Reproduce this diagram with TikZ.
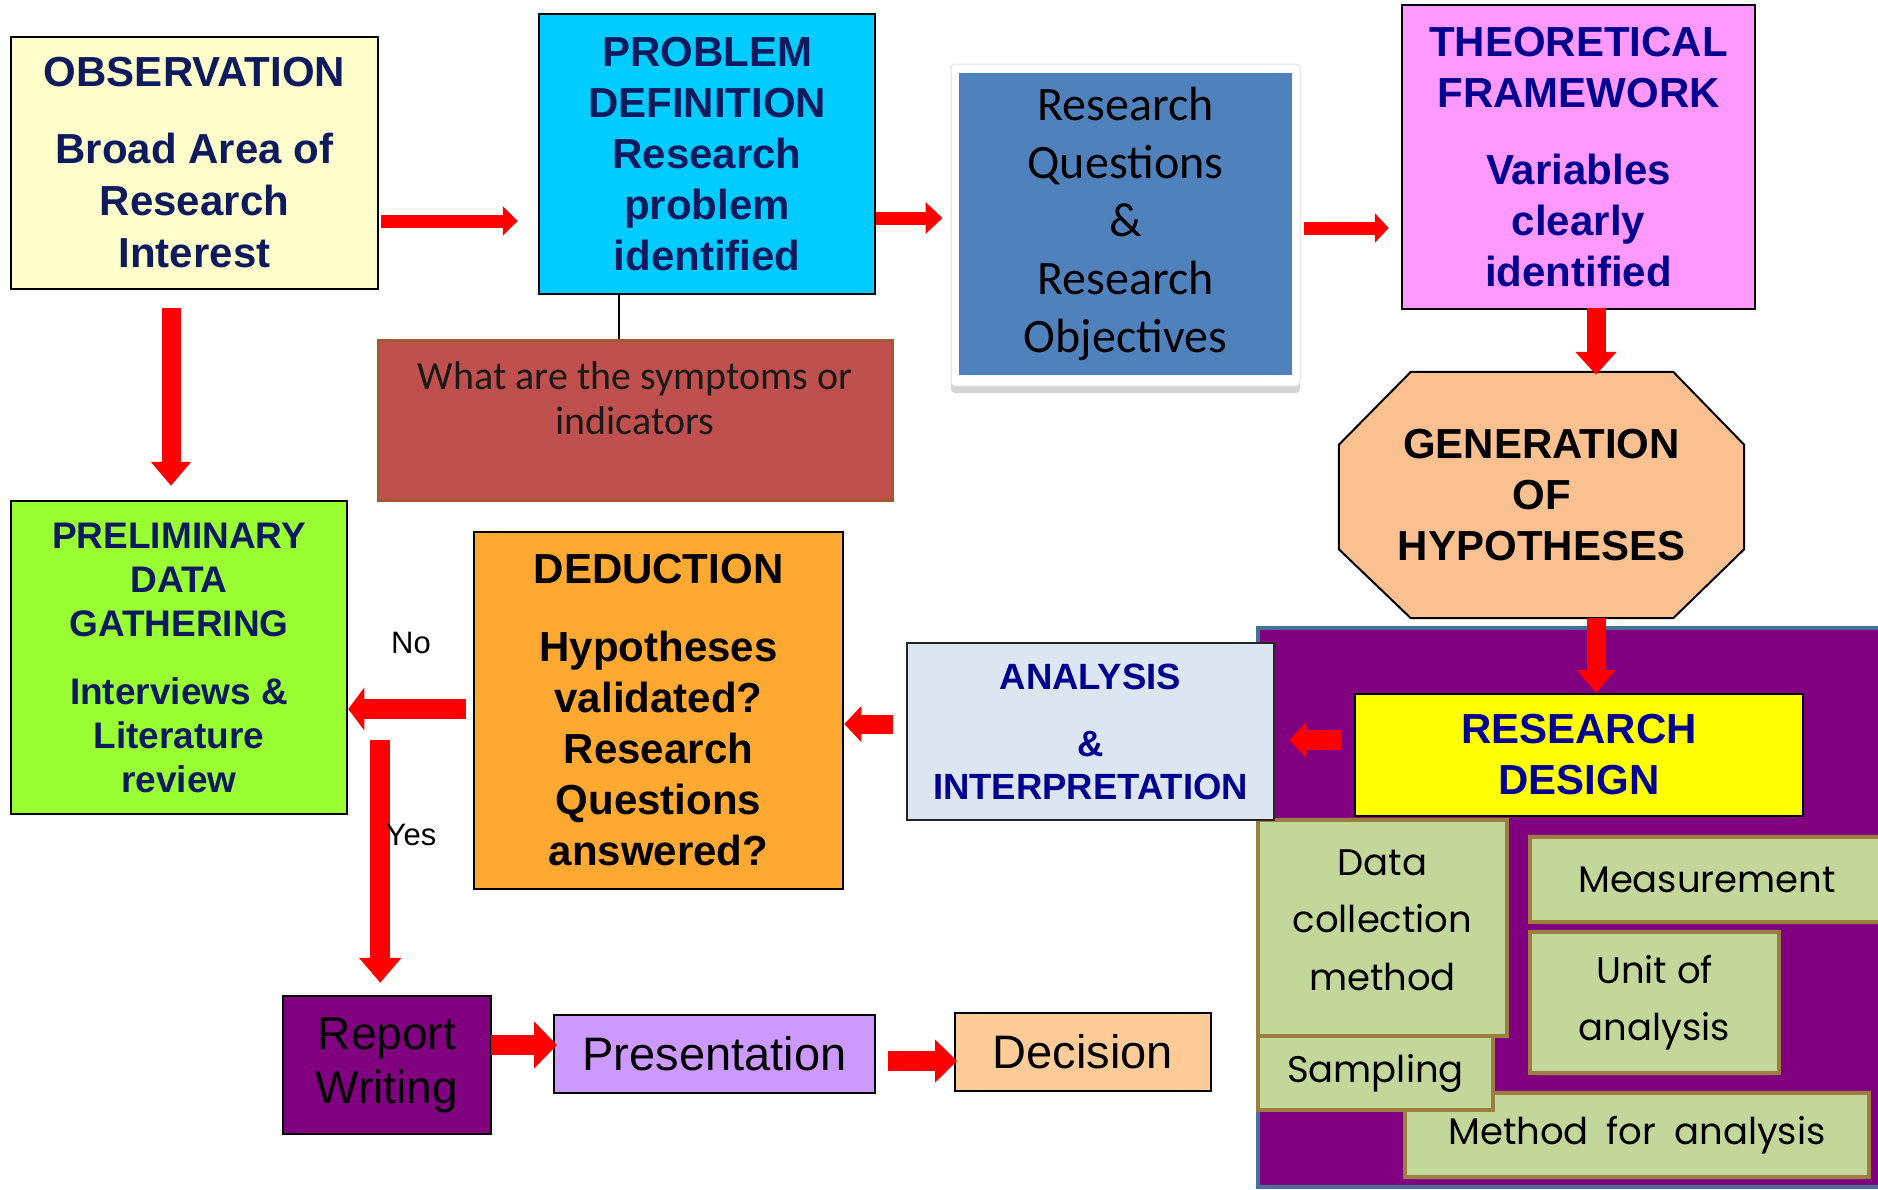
\documentclass[tikz,border=0pt]{standalone}
\usepackage{fontspec}
\setmainfont{Liberation Sans}
\newfontfamily\calib{Carlito}
\newfontfamily\gothic{Poppins}
\usetikzlibrary{arrows.meta,shadows,calc,backgrounds}

\definecolor{obsfill}{HTML}{FFFFCC}
\definecolor{probfill}{HTML}{00CCFF}
\definecolor{tffill}{HTML}{FF99FF}
\definecolor{gohfill}{HTML}{FAC090}
\definecolor{prelimfill}{HTML}{99FF33}
\definecolor{dedfill}{HTML}{FFA832}
\definecolor{anafill}{HTML}{DCE6F2}
\definecolor{rdfill}{HTML}{FFFF00}
\definecolor{purp}{HTML}{800080}
\definecolor{presfill}{HTML}{CC99FF}
\definecolor{decfill}{HTML}{FFCC99}
\definecolor{rqblue}{HTML}{4F81BD}
\definecolor{symfill}{HTML}{C0504D}
\definecolor{symedge}{HTML}{A35A32}
\definecolor{areaedge}{HTML}{4A6F98}
\definecolor{subfill}{HTML}{C4D79B}
\definecolor{subedge}{HTML}{9C7F3F}
\definecolor{darknavy}{HTML}{0D1B5E}
\definecolor{navy}{HTML}{000090}
\definecolor{arrowred}{HTML}{FF0000}

\tikzset{
  box/.style={draw=black, line width=2.5pt, inner sep=0pt, align=center},
  bigbold/.style={font=\fontsize{42}{51}\selectfont\bfseries},
  arr/.style n args={3}{draw=arrowred, line width=#1,
    -{Triangle[width=#2,length=#3]}},
  gothictext/.style={align=center, inner sep=0pt,
    font=\gothic\fontsize{37}{57.5}\selectfont},
  subbox/.style={draw=subedge, fill=subfill, line width=3.5pt, inner sep=0pt,
    gothictext},
  answer/.style={font=\fontsize{31}{36}\selectfont, inner sep=0pt},
}

\begin{document}
\begin{tikzpicture}[x=1pt,y=-1pt]
\useasboundingbox (0,0) rectangle (1878,1189);
\clip (0,0) rectangle (1878,1189);

% research design area
\node[draw=areaedge, fill=purp, line width=4pt, minimum width=632pt,
  minimum height=559pt, inner sep=0pt] (area) at (1574,907.5) {};

% top row
\node[box, fill=obsfill, minimum width=367pt, minimum height=252pt,
  text=darknavy, font=\fontsize{42}{52}\selectfont\bfseries] (obs) at (194.5,163)
  {OBSERVATION\\[25pt]Broad Area of\\Research\\Interest};

\node[box, fill=probfill, minimum width=336pt, minimum height=280pt,
  text=darknavy, bigbold] (prob) at (707,154)
  {PROBLEM\\DEFINITION\\Research\\problem\\identified};

\node[draw=symedge, fill=symfill, line width=3pt, minimum width=514pt,
  minimum height=160pt, inner sep=0pt] (sym) at (635,420) {};
\node[align=center, inner sep=0pt, text=black!90,
  font=\calib\fontsize{40}{45}\selectfont] (symt) at (635,398)
  {What are the symptoms or\\indicators};

\node[draw=black!12, fill=white, line width=1pt, rounded corners=4pt,
  minimum width=349pt, minimum height=322pt,
  drop shadow={shadow xshift=0pt, shadow yshift=-7pt, opacity=0.35}]
  (rqframe) at (1125.5,225) {};
\node[fill=rqblue, minimum width=333pt, minimum height=302pt, inner sep=0pt,
  align=center, font=\calib\fontsize{48}{58}\selectfont] (rq) at (1125.5,224)
  {Research\\Questions\\\&\\Research\\Objectives};

\node[box, fill=tffill, minimum width=353pt, minimum height=304pt,
  text=navy, font=\fontsize{42}{51}\selectfont\bfseries] (tf) at (1578.5,157)
  {THEORETICAL\\FRAMEWORK\\[26pt]Variables\\clearly\\identified};

% octagon: the node holds the text, its outline sits behind it
\node[minimum width=405pt, minimum height=246pt, inner sep=0pt, align=center,
  bigbold] (goh) at (1541.5,495) {GENERATION\\OF\\HYPOTHESES};
\begin{scope}[on background layer]
  \draw[black, line width=2pt, fill=gohfill, line join=miter]
    ([xshift=72pt]goh.north west) -- ([xshift=-71pt]goh.north east)
    -- ([yshift=-73pt]goh.north east) -- ([yshift=69pt]goh.south east)
    -- ([xshift=-71pt]goh.south east) -- ([xshift=72pt]goh.south west)
    -- ([yshift=69pt]goh.south west) -- ([yshift=-73pt]goh.north west)
    -- cycle;
\end{scope}

% middle row
\node[box, fill=prelimfill, minimum width=336pt, minimum height=313pt,
  text=darknavy, font=\fontsize{37}{44}\selectfont\bfseries] (prelim) at (179,657.5)
  {PRELIMINARY\\DATA\\GATHERING\\[24pt]Interviews \&\\Literature\\review};

\node[box, fill=dedfill, minimum width=369pt, minimum height=357pt,
  font=\fontsize{42}{51}\selectfont\bfseries] (ded) at (658.5,710.5)
  {DEDUCTION\\[27pt]Hypotheses\\validated?\\Research\\Questions\\answered?};

% research design components
\node[subbox, minimum width=464pt, minimum height=84pt] (meth) at (1637,1135)
  {Method\hspace{8pt} for\hspace{8pt} analysis};
\node[subbox, minimum width=235pt, minimum height=74pt] (samp) at (1375.5,1073)
  {Sampling};
\node[subbox, minimum width=249pt, minimum height=216pt] (dcm) at (1382.5,928) {};
\node[gothictext] (dcmt) at (1382.5,920) {Data\\collection\\method};
\node[subbox, minimum width=354pt, minimum height=85pt] (meas) at (1707,879.5)
  {Measurement};
\node[subbox, minimum width=249pt, minimum height=141pt] (unit) at (1654.5,1002.5)
  {Unit of\\analysis};

\node[box, fill=rdfill, minimum width=448pt, minimum height=122pt,
  text=navy, bigbold] (rd) at (1579,755) {RESEARCH\\DESIGN};

\node[draw=black!85, line width=2.5pt, fill=anafill, minimum width=367pt,
  minimum height=177pt, inner sep=0pt, align=center, text=navy,
  font=\fontsize{36.5}{43}\selectfont\bfseries] (ana) at (1090.5,731.5)
  {ANALYSIS\\[24pt]\&\\INTERPRETATION};

% bottom row
\node[box, fill=purp, minimum width=208pt, minimum height=138pt,
  font=\fontsize{46}{54}\selectfont] (report) at (387,1065) {Report\\Writing};
\node[box, fill=presfill, minimum width=321pt, minimum height=78pt,
  line width=2pt, font=\fontsize{47}{54}\selectfont] (pres) at (714.5,1054)
  {Presentation};
\node[box, fill=decfill, minimum width=256pt, minimum height=78pt,
  line width=2pt, font=\fontsize{47}{54}\selectfont] (dec) at (1083,1052)
  {Decision};

% connectors
\draw[black, line width=2pt] ([xshift=-88pt]prob.south) coordinate (l1)
  -- (l1 |- sym.north);

\coordinate (a1) at ([yshift=-58pt]obs.east);
\draw[arr={13pt}{29pt}{15pt}, shorten <=2pt, shorten >=20pt] (a1) -- (a1 -| prob.west);

\coordinate (a2) at ([yshift=-64pt]prob.east);
\draw[arr={13pt}{31pt}{17pt}, shorten >=8pt] (a2) -- (a2 -| rqframe.west);

\coordinate (a3) at ([yshift=-3pt]rqframe.east);
\draw[arr={13pt}{29pt}{14pt}, shorten <=3pt, shorten >=12pt] (a3) -- (a3 -| tf.west);

\coordinate (a4) at ([xshift=17.5pt]tf.south);
\draw[arr={19pt}{40pt}{23pt}, shorten <=-2pt, shorten >=-3pt] (a4) -- (a4 |- goh.north);

\coordinate (a5) at ([xshift=54.5pt]goh.south);
\draw[arr={19pt}{38pt}{23pt}] (a5) -- (a5 |- rd.north);

\coordinate (a6) at ([yshift=15pt]rd.west);
\draw[arr={20pt}{35pt}{17pt}, shorten <=13pt, shorten >=14pt] (a6) -- (a6 -| ana.east);

\coordinate (a7) at ([yshift=7.5pt]ana.west);
\draw[arr={19pt}{35pt}{17pt}, shorten <=13pt] (a7) -- (a7 -| ded.east);

\coordinate (a8) at ([yshift=1.5pt]ded.west);
\draw[arr={20pt}{42pt}{16pt}, shorten <=7pt] (a8) -- (a8 -| prelim.east);
\node[answer] (no) at (411,643) {No};

\coordinate (a9) at ([xshift=32pt, yshift=75pt]prelim.south east);
\draw[arr={20pt}{41pt}{25pt}, shorten >=12pt] (a9) -- (a9 |- report.north);
\node[answer] (yes) at (411,835) {Yes};

\coordinate (a10) at ([yshift=20pt]report.east);
\draw[arr={20pt}{46pt}{23pt}, shorten <=-1pt, shorten >=-4pt] (a10) -- (a10 -| pres.west);

\coordinate (a11) at ([yshift=-7pt]pres.east);
\draw[arr={20pt}{42pt}{22pt}, shorten <=12pt, shorten >=-3pt] (a11) -- (a11 -| dec.west);

\coordinate (a12) at ([xshift=-23.5pt]obs.south);
\draw[arr={19pt}{39pt}{24pt}, shorten <=18pt, shorten >=14pt] (a12) -- (a12 |- prelim.north);
\end{tikzpicture}
\end{document}
